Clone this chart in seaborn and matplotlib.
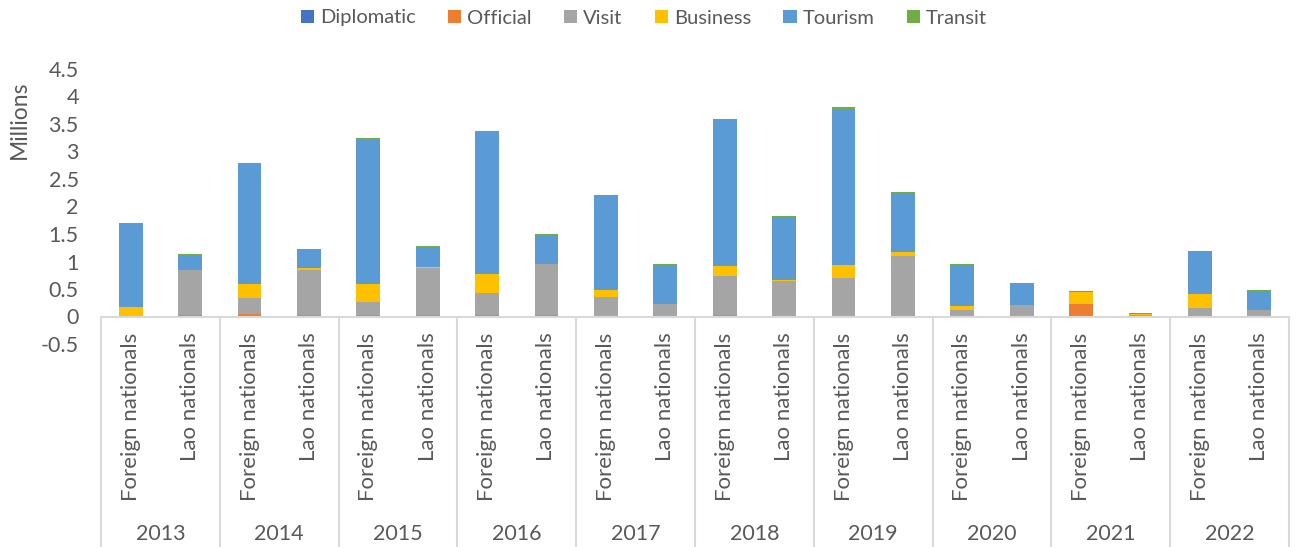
import numpy as np
import pandas as pd
import matplotlib
matplotlib.use("Agg")
import matplotlib.pyplot as plt
from matplotlib.patches import Patch
import seaborn as sns

# ---- data (millions) ----
years = ["2013", "2014", "2015", "2016", "2017", "2018", "2019", "2020", "2021", "2022"]
groups = ["Foreign nationals", "Lao nationals"]
series = ["Diplomatic", "Official", "Visit", "Business", "Tourism", "Transit"]
colors = ["#4472C4", "#ED7D31", "#A5A5A5", "#FFC000", "#5B9BD5", "#70AD47"]

# order per bar: 2013 F, 2013 L, 2014 F, 2014 L, ...
diplomatic = [0.002, 0.001, 0.002, 0.001, 0.002, 0.001, 0.002, 0.001, 0.002, 0.001,
              0.002, 0.001, 0.002, 0.001, 0.001, 0.001, 0.001, 0.001, 0.001, 0.001]
official   = [0.005, 0.030, 0.050, 0.020, 0.020, 0.020, 0.020, 0.020, 0.005, 0.003,
              0.030, 0.005, 0.005, 0.005, 0.003, 0.002, 0.220, 0.015, 0.005, 0.003]
visit      = [0.010, 0.810, 0.280, 0.830, 0.235, 0.865, 0.400, 0.930, 0.340, 0.227,
              0.700, 0.645, 0.695, 1.095, 0.112, 0.208, 0.005, 0.005, 0.140, 0.112]
business   = [0.150, 0.005, 0.250, 0.035, 0.325, 0.010, 0.356, 0.005, 0.140, 0.005,
              0.180, 0.005, 0.230, 0.070, 0.070, 0.003, 0.225, 0.030, 0.255, 0.005]
tourism    = [1.520, 0.270, 2.190, 0.330, 2.640, 0.370, 2.580, 0.530, 1.700, 0.700,
              2.660, 1.150, 2.830, 1.070, 0.750, 0.380, 0.015, 0.005, 0.770, 0.335]
transit    = [0.020, 0.020, 0.020, 0.020, 0.020, 0.020, 0.020, 0.020, 0.020, 0.020,
              0.020, 0.020, 0.040, 0.030, 0.020, 0.020, 0.005, 0.015, 0.025, 0.020]

values = [diplomatic, official, visit, business, tourism, transit]
slots = [f"{y}|{g}" for y in years for g in groups]

rows = []
for i, s in enumerate(slots):
    row = {"slot": s}
    for name, vals in zip(series, values):
        row[name] = vals[i]
    rows.append(row)
df = pd.DataFrame(rows)
cum = df[series].cumsum(axis=1)

# ---- style ----
sns.set_style("white")
plt.rcParams["font.family"] = ["Lato", "DejaVu Sans"]
txt = "#595959"
line_c = "#D9D9D9"

fig = plt.figure(figsize=(12.99, 5.47), dpi=100)
ax = fig.add_axes([101 / 1299, (547 - 344) / 547, (1289 - 101) / 1299, 275 / 547])

# stacked bars: draw cumulative totals from top layer down
for k in range(len(series) - 1, -1, -1):
    d = pd.DataFrame({"slot": df["slot"], "val": cum[series[k]]})
    sns.barplot(data=d, x="slot", y="val", order=slots, color=colors[k],
                saturation=1, width=0.4, linewidth=0, errorbar=None, ax=ax)

ax.set_xlim(-0.5, len(slots) - 0.5)
ax.set_ylim(-0.5, 4.5)
ax.set_xticks([])
ax.set_xlabel("")
ax.set_ylabel("")
yt = np.arange(-0.5, 4.51, 0.5)
ax.set_yticks(yt)
ax.set_yticklabels([f"{v:g}" for v in yt], color=txt, fontsize=15.5)
ax.tick_params(axis="y", length=0, pad=16)
for sp in ax.spines.values():
    sp.set_visible(False)

# category axis table
ybottom = -0.5 - 210 / 55.0
ax.plot([-0.5, len(slots) - 0.5], [0, 0], color=line_c, lw=1.5, clip_on=False, zorder=5)
for j in range(len(years) + 1):
    xs = -0.5 + 2 * j
    ax.plot([xs, xs], [0, ybottom], color=line_c, lw=1.5, clip_on=False, zorder=5)

for i, s in enumerate(slots):
    y, g = s.split("|")
    ax.text(i, -0.29, g, rotation=90, ha="center", va="top", color=txt,
            fontsize=16, clip_on=False)
for j, y in enumerate(years):
    ax.text(2 * j + 0.5, -3.95, y, ha="center", va="center", color=txt,
            fontsize=15.5, clip_on=False)

fig.text(19 / 1299, 1 - 120 / 547, "Millions", rotation=90, ha="center",
         va="center", color=txt, fontsize=16.5)

handles = [Patch(facecolor=c, edgecolor="none", label=n) for n, c in zip(series, colors)]
fig.legend(handles=handles, loc="center", bbox_to_anchor=(644 / 1299, 1 - 18 / 547),
           ncol=6, frameon=False, fontsize=14.5, handlelength=0.65, handleheight=0.65,
           handletextpad=0.3, columnspacing=1.6, labelcolor=txt)

fig.savefig("out.png", dpi=100)
